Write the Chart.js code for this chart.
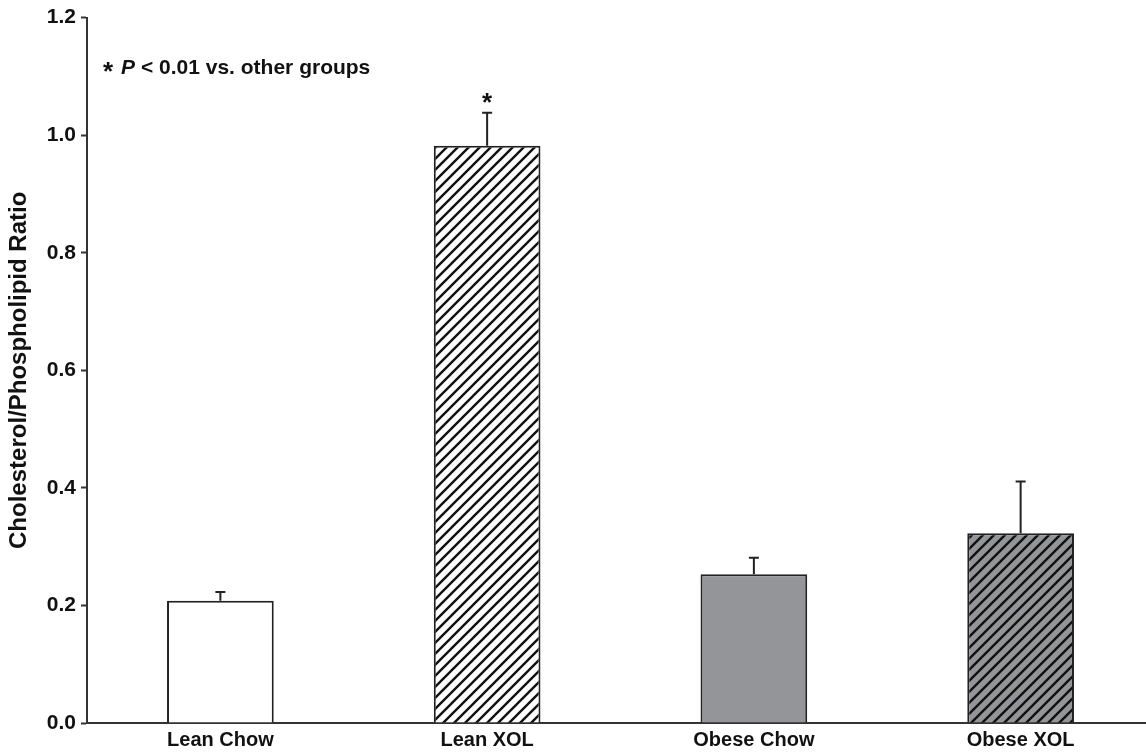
<!DOCTYPE html>
<html>
<head>
<meta charset="utf-8">
<script src="https://cdn.jsdelivr.net/npm/chart.js@4"></script>
<style>
  html, body { margin: 0; padding: 0; background: #fff; overflow: hidden; }
  #wrap { width: 1146px; height: 753px; overflow: hidden; }
</style>
</head>
<body>
<div id="wrap"><canvas id="ratioChart" width="1154" height="753"></canvas></div>
<script>
// Data
const groups = ['Lean Chow', 'Lean XOL', 'Obese Chow', 'Obese XOL'];
const ratioMeans = [0.208, 0.982, 0.253, 0.323];
const ratioErrors = [0.015, 0.056, 0.028, 0.088];
const yTicks = [0.0, 0.2, 0.4, 0.6, 0.8, 1.0, 1.2];
const starGroup = 'Lean XOL';
const noteText = ' < 0.01 vs. other groups';

// Hatch patterns for the XOL bars
function makeHatch(bg) {
    const s = 11;
    const c = document.createElement('canvas');
    c.width = s; c.height = s;
    const g = c.getContext('2d');
    g.fillStyle = bg;
    g.fillRect(0, 0, s, s);
    g.strokeStyle = '#111';
    g.lineWidth = 2.4;
    g.beginPath();
    g.moveTo(0, s); g.lineTo(s, 0);
    g.moveTo(-2, 2); g.lineTo(2, -2);
    g.moveTo(s - 2, s + 2); g.lineTo(s + 2, s - 2);
    g.stroke();
    return g.createPattern(c, 'repeat');
}

const ctx = document.getElementById('ratioChart').getContext('2d');
const fills = ['#ffffff', makeHatch('#ffffff'), '#939598', makeHatch('#939598')];
const font = '"Liberation Sans", Arial, sans-serif';

// Error bars (upper only), asterisk and note
const extrasPlugin = {
    id: 'extras',
    afterDatasetsDraw(chart) {
        const c = chart.ctx;
        const meta = chart.getDatasetMeta(0);
        const y = chart.scales.y;
        c.save();
        c.strokeStyle = '#222';
        c.lineWidth = 2;
        meta.data.forEach((bar, i) => {
            const top = y.getPixelForValue(ratioMeans[i] + ratioErrors[i]);
            c.beginPath();
            c.moveTo(bar.x, bar.y);
            c.lineTo(bar.x, top);
            c.moveTo(bar.x - 5, top);
            c.lineTo(bar.x + 5, top);
            c.stroke();
        });

        c.fillStyle = '#111';
        c.textBaseline = 'alphabetic';
        // star over the significant group
        const si = groups.indexOf(starGroup);
        const sb = meta.data[si];
        c.textAlign = 'center';
        c.font = 'bold 26px ' + font;
        c.fillText('*', sb.x, y.getPixelForValue(ratioMeans[si] + ratioErrors[si]) - 2);

        // note at top left
        c.textAlign = 'left';
        let x = 103;
        const base = 74;
        c.font = 'bold 26px ' + font;
        c.fillText('*', x, base + 6);
        x += c.measureText('*').width + 8;
        c.font = 'italic bold 21px ' + font;
        c.fillText('P', x, base);
        x += c.measureText('P').width;
        c.font = 'bold 21px ' + font;
        c.fillText(noteText, x, base);
        c.restore();
    }
};

new Chart(ctx, {
    type: 'bar',
    data: {
        labels: groups,
        datasets: [{
            data: ratioMeans,
            backgroundColor: fills,
            borderColor: '#222',
            borderWidth: 2,
            borderSkipped: 'bottom',
            barPercentage: 0.4,
            categoryPercentage: 1.0
        }]
    },
    options: {
        responsive: false,
        animation: false,
        layout: { padding: { top: 17, left: 0, right: 0, bottom: 0 } },
        plugins: {
            legend: { display: false },
            tooltip: { enabled: false }
        },
        scales: {
            x: {
                grid: { display: false, drawTicks: false },
                border: { display: true, color: '#333', width: 2 },
                ticks: {
                    color: '#111',
                    padding: 5,
                    font: { family: font, size: 20, weight: 'bold' }
                },
                afterFit(scale) { scale.height = 30; }
            },
            y: {
                min: 0,
                max: 1.2,
                afterBuildTicks(scale) { scale.ticks = yTicks.map(v => ({ value: v })); },
                grid: { display: true, drawOnChartArea: false, drawTicks: true, tickLength: 6, tickColor: '#333', tickWidth: 2 },
                border: { display: true, color: '#333', width: 2 },
                ticks: {
                    color: '#111',
                    padding: 5,
                    font: { family: font, size: 21, weight: 'bold' },
                    callback: v => Number(v).toFixed(1)
                },
                title: {
                    display: true,
                    text: 'Cholesterol/Phospholipid Ratio',
                    color: '#111',
                    padding: { top: 5, bottom: 4 },
                    font: { family: font, size: 24, weight: 'bold' }
                },
                afterFit(scale) { scale.width = 87; }
            }
        }
    },
    plugins: [extrasPlugin]
});
</script>
</body>
</html>
